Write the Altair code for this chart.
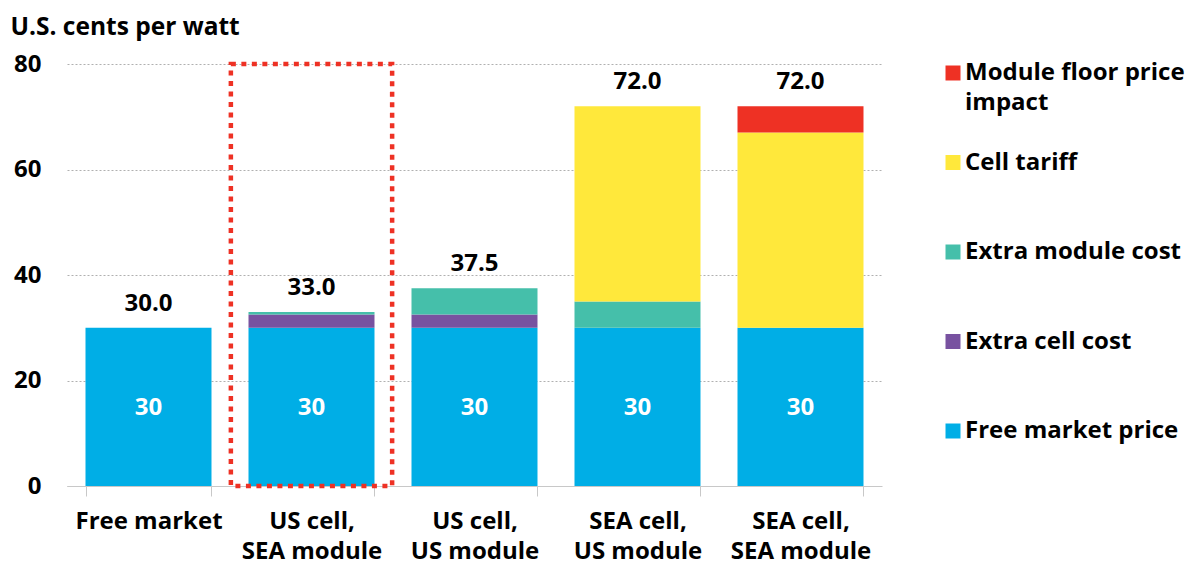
import altair as alt
import pandas as pd

categories = ["Free market", "US cell, SEA module", "US cell, US module",
              "SEA cell, US module", "SEA cell, SEA module"]
series = ["Free market price", "Extra cell cost", "Extra module cost",
          "Cell tariff", "Module floor price impact"]
free_market = [30, 30, 30, 30, 30]
extra_cell = [0, 2.5, 2.5, 0, 0]
extra_module = [0, 0.5, 5, 5, 0]
cell_tariff = [0, 0, 0, 37, 37]
floor_impact = [0, 0, 0, 0, 5]
series_colors = ["#00AEE6", "#7852A0", "#45BFAA", "#FFE83B", "#EE3124"]
highlighted = "US cell, SEA module"
y_ticks = [0, 20, 40, 60, 80]

values = [free_market, extra_cell, extra_module, cell_tariff, floor_impact]
rows = []
totals = []
for i, c in enumerate(categories):
    base = 0
    for k, s in enumerate(series):
        v = values[k][i]
        if v > 0:
            rows.append(dict(category=c, series=s, value=v, rank=k,
                             start=base, end=base + v, mid=base + v / 2,
                             txt=f"{v:g}"))
        base += v
    totals.append(dict(category=c, total=base, label=f"{base:.1f}"))
df = pd.DataFrame(rows)
tot = pd.DataFrame(totals)
hl = pd.DataFrame([dict(category=highlighted, lo=y_ticks[0], hi=y_ticks[-1])])

legend_order = series[::-1]
legend_colors = series_colors[::-1]

FONT = "Open Sans"
FS = 24

xenc = alt.X("category:N", sort=categories,
             scale=alt.Scale(paddingInner=0.227, paddingOuter=0.1135),
             axis=alt.Axis(title=None, labelAngle=0, labelFontSize=FS, labelFontWeight="bold",
                           labelColor="black", labelPadding=13, labelLineHeight=30,
                           labelBaseline="top",
                           labelExpr="split(replace(datum.label, ', ', ',|'), '|')",
                           domainColor="#c8c8c8", tickColor="#c8c8c8", tickSize=10,
                           tickBand="extent", grid=False))
ysc = alt.Scale(domain=[0, 80])
yaxis = alt.Axis(values=y_ticks, title="U.S. cents per watt", titleAngle=0, titleAlign="left",
                 titleX=-57, titleY=-25, titleFontSize=24.5, titleFontWeight="bold",
                 titleColor="black", labelFontSize=FS, labelFontWeight="bold",
                 labelColor="black", labelPadding=26, domain=False, ticks=False,
                 grid=True, gridColor="#b0b0b0", gridDash=[2, 2], gridWidth=1)

bars = alt.Chart(df).mark_bar().encode(
    x=xenc,
    y=alt.Y("start:Q", scale=ysc, axis=yaxis),
    y2="end:Q",
    color=alt.Color("series:N",
                    scale=alt.Scale(domain=legend_order, range=legend_colors),
                    legend=alt.Legend(title=None, orient="none", legendX=874, legendY=-3,
                                      symbolType="square", symbolSize=225,
                                      symbolStrokeWidth=0, labelFontSize=FS,
                                      labelFontWeight="bold", labelColor="black",
                                      labelLimit=400, labelOffset=0, rowPadding=35.5,
                                      gridAlign="all", labelBaseline="middle",
                                      labelExpr="datum.label == 'Module floor price impact' ? ['Module floor price', 'impact'] : datum.label")),
)

inner = alt.Chart(df[df["series"] == series[0]]).mark_text(
    color="white", fontSize=FS, fontWeight="bold", baseline="middle", dy=1
).encode(x=alt.X("category:N", sort=categories), y=alt.Y("mid:Q"), text="txt:N")

top = alt.Chart(tot).mark_text(
    color="black", fontSize=FS, fontWeight="bold", baseline="bottom", dy=-12
).encode(x=alt.X("category:N", sort=categories), y=alt.Y("total:Q"), text="label:N")

box = alt.Chart(hl).mark_bar(
    fillOpacity=0, stroke="#EE3124", strokeWidth=4.5, strokeDash=[5, 5.5],
    width=alt.RelativeBandSize(1.28)
).encode(x=alt.X("category:N", sort=categories), y="lo:Q", y2="hi:Q")

chart = alt.layer(bars, inner, top, box).properties(
    width=815, height=422,
    autosize=alt.AutoSizeParams(type="none"),
    padding={"left": 67, "top": 64, "right": 305, "bottom": 76},
).configure(font=FONT, style={"guide-label": {"lineHeight": 30}}).configure_view(stroke=None)

chart.save("out.html", embed_options={"renderer": "svg", "actions": False})
